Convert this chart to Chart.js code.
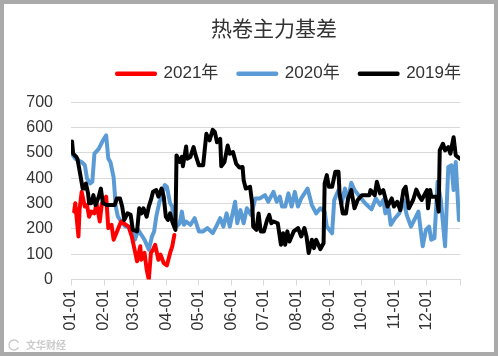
<!DOCTYPE html>
<html>
<head>
<meta charset="utf-8">
<style>
  body { margin: 0; background: #fff; }
  .box { position: relative; width: 498px; height: 356px; box-sizing: border-box; border: 4px solid #aaaaaa; background: #fff; }
  canvas { display: block; }
</style>
<script src="https://cdn.jsdelivr.net/npm/chart.js@4/dist/chart.umd.min.js"></script>
</head>
<body>
<div class="box"><canvas id="myChart" width="490" height="348"></canvas></div>
<script>
const monthDays = [0, 31, 59, 90, 120, 151, 181, 212, 243, 273, 304, 334, 365];
const monthLabels = ['01-01', '02-01', '03-01', '04-01', '05-01', '06-01', '07-01', '08-01', '09-01', '10-01', '11-01', '12-01', ''];
const yTicks = [0, 100, 200, 300, 400, 500, 600, 700];

// day of year, value
const days2021 = [3,4,7,8,10,13,15,17,19,22,24,27,29,33,35,38,40,47,54,57,59,62,65,66,69,71,73,75,77,79,82,84,87,90,93,95,97];
const vals2021 = [268,301,170,274,346,288,294,248,268,261,301,229,301,327,203,216,157,229,209,170,131,72,131,78,105,39,0,105,118,137,78,98,65,56,105,131,176];

const days2020 = [0,2,4,7,10,13,15,18,20,22,26,30,33,35,37,40,42,44,47,51,54,57,60,63,66,69,73,76,78,80,83,85,88,90,93,95,96,99,102,104,106,108,112,113,116,120,124,128,133,137,140,143,146,149,154,156,159,162,165,169,173,177,182,185,190,193,196,198,201,204,207,210,213,216,222,226,230,234,238,240,245,247,251,254,257,260,263,266,271,276,282,286,290,293,295,298,300,304,308,312,315,319,323,326,330,333,336,338,341,344,347,351,354,357,359,361,364];
const vals2020 = [497,490,477,470,464,451,399,379,386,497,516,549,569,477,464,403,288,248,229,209,209,196,157,196,176,157,118,170,190,248,307,327,373,366,301,288,222,209,222,268,216,229,216,222,242,190,190,203,183,216,242,209,261,209,307,222,274,222,281,255,320,320,333,307,346,307,327,288,288,340,288,346,288,320,359,294,261,281,268,209,183,314,353,301,359,314,382,353,327,301,277,320,294,314,261,281,216,242,261,314,255,209,242,268,131,196,209,157,163,386,314,131,444,451,353,464,235];

const days2019 = [1,2,5,6,8,11,13,14,16,17,19,21,23,26,28,30,34,41,43,46,48,50,53,56,58,62,64,66,68,71,73,75,77,80,82,85,87,89,91,93,95,98,99,102,104,105,108,109,112,115,117,120,124,127,129,130,133,135,137,140,141,144,147,149,152,155,158,161,162,164,168,170,171,174,176,178,181,184,186,188,190,194,197,199,201,203,205,209,213,216,219,221,223,226,228,230,234,237,238,240,242,245,248,251,252,255,258,260,263,266,269,273,280,281,285,287,290,293,297,301,303,306,309,312,314,317,321,324,327,329,334,335,337,338,343,345,346,349,351,354,356,359,361,365];
const vals2019 = [545,497,484,477,431,359,359,379,340,301,301,333,294,327,359,301,294,294,320,320,288,235,261,255,196,190,281,261,281,248,288,314,346,353,327,359,327,248,235,261,229,196,490,464,484,447,525,477,484,523,490,451,451,575,555,549,591,582,542,555,447,464,529,497,503,457,442,444,392,359,366,301,209,196,261,190,190,235,255,222,229,222,137,183,137,190,150,190,203,170,203,170,105,157,124,157,120,144,379,412,366,366,425,425,340,261,261,320,353,281,314,333,333,353,333,386,340,353,288,320,288,307,274,353,366,281,314,355,327,314,353,281,353,327,327,268,510,536,510,523,497,562,490,477];

function toPoints(days, vals) {
  return days.map((d, i) => ({ x: d, y: vals[i] }));
}

const cjkFont = '"Liberation Sans", "Noto Sans CJK SC", sans-serif';

// title and legend sit right of centre in the picture, and closer to the top than the plot needs
const shiftBlocks = {
  id: 'shiftBlocks',
  afterLayout(chart) {
    chart.titleBlock.left += 42;
    chart.titleBlock.right += 42;
    chart.titleBlock.top -= 11;
    chart.titleBlock.bottom -= 11;
    chart.legend.left += 57;
    chart.legend.right += 57;
    chart.legend.top -= 10;
    chart.legend.bottom -= 10;
  }
};

// faint watermark, bottom left
const watermark = {
  id: 'watermark',
  afterDraw(chart) {
    const c = chart.ctx;
    c.save();
    c.fillStyle = '#cccccc';
    c.font = 'bold 10px "Noto Sans CJK SC"';
    c.textBaseline = 'middle';
    c.fillText('文华财经', 22, 341);
    c.strokeStyle = '#cccccc';
    c.lineWidth = 1.5;
    c.beginPath();
    c.arc(10, 341, 5, 0.5, 5.8);
    c.stroke();
    c.restore();
  }
};

const config = {
  type: 'line',
  data: {
    datasets: [
      { label: '2021年', data: toPoints(days2021, vals2021), borderColor: '#ff0000', backgroundColor: '#ff0000', order: 1 },
      { label: '2020年', data: toPoints(days2020, vals2020), borderColor: '#5b9bd5', backgroundColor: '#5b9bd5', order: 2 },
      { label: '2019年', data: toPoints(days2019, vals2019), borderColor: '#000000', backgroundColor: '#000000', order: 0 }
    ]
  },
  options: {
    responsive: false,
    animation: false,
    layout: { padding: { left: 0, right: 34, top: 10, bottom: 0 } },
    datasets: { line: { borderWidth: 4, pointRadius: 0, tension: 0, borderJoinStyle: 'round', borderCapStyle: 'round' } },
    plugins: {
      title: {
        display: true,
        text: '热卷主力基差',
        color: '#333333',
        font: { family: '"Noto Sans CJK SC"', size: 21, weight: 'normal' },
        padding: { top: 12, bottom: 4 }
      },
      legend: {
        display: true,
        labels: {
          boxWidth: 38,
          boxHeight: 0.5,
          padding: 20,
          color: '#333333',
          font: { family: cjkFont, size: 17 },
          sort: (a, b) => a.datasetIndex - b.datasetIndex
        }
      },
      tooltip: { enabled: false }
    },
    scales: {
      x: {
        type: 'linear',
        min: 0,
        max: 365,
        afterBuildTicks: axis => { axis.ticks = monthDays.map(v => ({ value: v })); },
        afterFit: axis => { axis.height = 72.5; },
        grid: { drawOnChartArea: false, color: '#d9d9d9', tickLength: 6 },
        border: { color: '#d9d9d9' },
        ticks: {
          autoSkip: false,
          minRotation: 90,
          maxRotation: 90,
          padding: 4,
          color: '#333333',
          font: { family: cjkFont, size: 16 },
          callback: v => monthLabels[monthDays.indexOf(v)]
        }
      },
      y: {
        min: 0,
        max: 700,
        afterBuildTicks: axis => { axis.ticks = yTicks.map(v => ({ value: v })); },
        afterFit: axis => { axis.width = 67; },
        grid: { color: '#d9d9d9', drawTicks: false },
        border: { display: false },
        ticks: {
          padding: 18,
          color: '#333333',
          font: { family: cjkFont, size: 16 }
        }
      }
    }
  },
  plugins: [shiftBlocks, watermark]
};

const myChart = new Chart(document.getElementById('myChart').getContext('2d'), config);
</script>
</body>
</html>
